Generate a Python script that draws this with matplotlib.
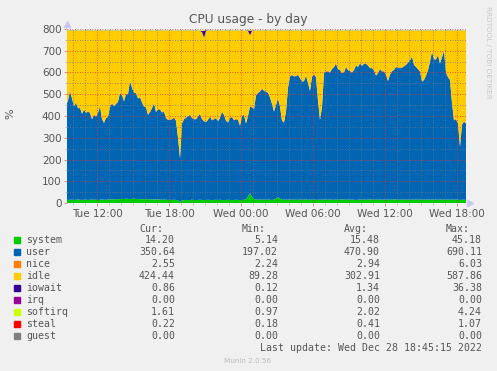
import matplotlib
matplotlib.use('Agg')
import matplotlib.pyplot as plt
import matplotlib.dates as mdates
from matplotlib.ticker import MultipleLocator
from matplotlib.patches import Rectangle
from matplotlib.lines import Line2D
import pandas as pd

W, H = 497, 371

start_time = '2022-12-27 09:25'
step = '10min'
x_start = '2022-12-27 09:30'
x_end = '2022-12-28 18:45'

system = [
    15, 14, 15, 15, 14, 15, 16, 15, 14, 15, 15, 14, 15, 16, 15, 15, 14, 15, 16, 15,
    15, 16, 17, 16, 17, 18, 17, 18, 19, 18, 20, 19, 18, 19, 20, 18, 19, 18, 17, 18,
    17, 18, 17, 16, 17, 16, 17, 16, 15, 16, 15, 14, 15, 14, 15, 14, 12, 6, 12, 13,
    14, 13, 14, 15, 14, 13, 14, 15, 14, 13, 14, 15, 14, 13, 14, 15, 14, 15, 14, 13,
    14, 15, 14, 13, 14, 15, 14, 13, 14, 15, 16, 30, 45, 28, 18, 16, 15, 16, 15, 16,
    15, 16, 15, 14, 16, 20, 28, 20, 15, 16, 15, 16, 16, 15, 16, 15, 15, 16, 15, 16,
    16, 15, 16, 15, 16, 15, 15, 16, 15, 16, 16, 15, 16, 15, 15, 16, 15, 16, 17, 16,
    15, 16, 15, 16, 15, 14, 15, 16, 15, 16, 15, 16, 17, 16, 15, 16, 15, 16, 15, 16,
    15, 16, 15, 16, 17, 16, 15, 16, 15, 16, 15, 16, 15, 16, 15, 16, 15, 16, 15, 16,
    15, 16, 15, 16, 15, 16, 15, 16, 15, 16, 15, 16, 15, 16, 15, 16, 15, 14, 15, 15,
    14,
]

user = [
    435, 456, 500, 465, 431, 445, 419, 422, 396, 413,
    399, 406, 399, 369, 390, 382, 400, 430, 369, 353,
    375, 379, 423, 442, 428, 437, 448, 487, 478, 449,
    480, 481, 542, 511, 486, 487, 461, 467, 445, 425,
    423, 387, 401, 419, 441, 402, 413, 414, 401, 404,
    375, 368, 367, 371, 377, 364, 288, 199, 353, 372,
    378, 384, 391, 376, 371, 372, 383, 395, 371, 362,
    358, 367, 383, 367, 371, 375, 361, 377, 404, 392,
    364, 355, 377, 382, 366, 370, 368, 342, 386, 390,
    349, 370, 398, 412, 412, 479, 490, 496, 510, 499,
    497, 490, 470, 441, 404, 430, 452, 423, 363, 354,
    405, 514, 565, 573, 566, 568, 573, 558, 542, 544,
    569, 537, 499, 565, 576, 563, 455, 366, 425, 584,
    588, 590, 584, 600, 610, 624, 600, 595, 580, 584,
    610, 594, 591, 584, 596, 618, 610, 626, 615, 624,
    625, 616, 603, 604, 595, 569, 582, 599, 590, 589,
    575, 544, 575, 589, 595, 609, 607, 604, 607, 612,
    620, 629, 640, 657, 620, 609, 600, 588, 543, 549,
    570, 594, 635, 679, 645, 644, 665, 624, 655, 684,
    585, 562, 550, 444, 365, 369, 350, 245, 345, 359,
    351,
]

nice = [
    3.0, 2.9, 3.1, 2.8, 3.0, 3.2, 2.9, 3.0, 2.7, 3.1, 3.0, 2.9, 3.3, 3.0, 2.8, 3.1, 2.9, 3.0, 2.6, 2.9,
    3.0, 2.9, 3.1, 2.8, 3.0, 3.2, 2.9, 3.0, 2.7, 3.1, 3.0, 2.9, 3.3, 3.0, 2.8, 3.1, 2.9, 3.0, 2.6, 2.9,
    3.0, 2.9, 3.1, 2.8, 3.0, 3.2, 2.9, 3.0, 2.7, 3.1, 3.0, 2.9, 3.3, 3.0, 2.8, 3.1, 2.9, 3.0, 2.6, 2.9,
    3.0, 2.9, 3.1, 2.8, 3.0, 3.2, 2.9, 3.0, 2.7, 3.1, 3.0, 2.9, 3.3, 3.0, 2.8, 3.1, 2.9, 3.0, 2.6, 2.9,
    3.0, 2.9, 3.1, 2.8, 3.0, 3.2, 2.9, 3.0, 2.7, 3.1, 3.0, 2.9, 3.3, 3.0, 2.8, 3.1, 2.9, 3.0, 2.6, 2.9,
    3.0, 2.9, 3.1, 2.8, 3.0, 3.2, 2.9, 3.0, 2.7, 3.1, 3.0, 2.9, 3.3, 3.0, 2.8, 3.1, 2.9, 3.0, 2.6, 2.9,
    3.0, 2.9, 3.1, 2.8, 3.0, 3.2, 2.9, 3.0, 2.7, 3.1, 3.0, 2.9, 3.3, 3.0, 2.8, 3.1, 2.9, 3.0, 2.6, 2.9,
    3.0, 2.9, 3.1, 2.8, 3.0, 3.2, 2.9, 3.0, 2.7, 3.1, 3.0, 2.9, 3.3, 3.0, 2.8, 3.1, 2.9, 3.0, 2.6, 2.9,
    3.0, 2.9, 3.1, 2.8, 3.0, 3.2, 2.9, 3.0, 2.7, 3.1, 3.0, 2.9, 3.3, 3.0, 2.8, 3.1, 2.9, 3.0, 2.6, 2.9,
    3.0, 2.9, 3.1, 2.8, 3.0, 3.2, 2.9, 3.0, 2.7, 3.1, 3.0, 2.9, 3.3, 3.0, 2.8, 3.1, 2.9, 3.0, 2.6, 2.9,
    2.6,
]

idle = [
    338, 318, 273, 308, 343, 328, 353, 351, 378, 360,
    374, 368, 374, 403, 383, 391, 374, 343, 403, 420,
    398, 393, 348, 330, 343, 333, 323, 283, 291, 321,
    288, 288, 228, 258, 282, 283, 308, 303, 326, 345,
    348, 383, 370, 353, 330, 370, 358, 358, 372, 368,
    398, 406, 406, 403, 396, 410, 488, 583, 423, 403,
    396, 391, 383, 397, 403, 403, 391, 378, 398, 383,
    416, 406, 391, 408, 403, 398, 413, 396, 370, 383,
    410, 418, 397, 393, 408, 403, 406, 433, 388, 383,
    423, 388, 325, 348, 358, 293, 283, 276, 263, 273,
    276, 282, 303, 333, 368, 338, 308, 345, 410, 418,
    368, 258, 207, 200, 206, 205, 200, 214, 231, 228,
    203, 236, 273, 208, 196, 210, 318, 406, 348, 188,
    184, 183, 188, 173, 163, 148, 173, 177, 191, 188,
    163, 178, 182, 188, 177, 156, 163, 146, 158, 148,
    148, 156, 168, 168, 178, 203, 191, 173, 183, 183,
    198, 228, 198, 183, 176, 163, 166, 168, 166, 160,
    153, 143, 133, 115, 153, 163, 173, 184, 230, 223,
    203, 178, 138, 93, 128, 128, 108, 148, 118, 88,
    188, 210, 223, 328, 408, 403, 423, 529, 428, 414,
    423,
]

iowait = [
    1.2, 0.9, 1.0, 1.4, 0.8, 1.1, 0.9, 1.0, 1.3, 0.8, 1.0, 1.1, 0.9, 1.2, 1.0, 0.8, 1.1, 0.9, 1.0, 1.2,
    1.2, 0.9, 1.0, 1.4, 0.8, 1.1, 0.9, 1.0, 1.3, 0.8, 1.0, 1.1, 0.9, 1.2, 1.0, 0.8, 1.1, 0.9, 1.0, 1.2,
    1.2, 0.9, 1.0, 1.4, 0.8, 1.1, 0.9, 1.0, 1.3, 0.8, 1.0, 1.1, 0.9, 1.2, 1.0, 0.8, 1.1, 0.9, 1.0, 1.2,
    1.2, 0.9, 1.0, 1.4, 0.8, 1.1, 0.9, 1.0, 5.0, 30.0, 4.0, 1.1, 0.9, 1.2, 1.0, 0.8, 1.1, 0.9, 1.0, 1.2,
    1.2, 0.9, 1.0, 1.4, 0.8, 1.1, 0.9, 1.0, 1.3, 0.8, 1.0, 3.0, 20.0, 2.5, 1.0, 0.8, 1.1, 0.9, 1.0, 1.2,
    1.2, 0.9, 1.0, 1.4, 0.8, 1.1, 0.9, 1.0, 1.3, 0.8, 1.0, 1.1, 0.9, 1.2, 1.0, 0.8, 1.1, 0.9, 1.0, 1.2,
    1.2, 0.9, 1.0, 1.4, 0.8, 1.1, 0.9, 1.0, 1.3, 0.8, 1.0, 1.1, 0.9, 1.2, 1.0, 0.8, 1.1, 0.9, 1.0, 1.2,
    1.2, 0.9, 1.0, 1.4, 0.8, 1.1, 0.9, 1.0, 1.3, 0.8, 1.0, 1.1, 0.9, 1.2, 1.0, 0.8, 1.1, 0.9, 1.0, 1.2,
    1.2, 0.9, 1.0, 1.4, 0.8, 1.1, 0.9, 1.0, 1.3, 0.8, 1.0, 1.1, 0.9, 1.2, 1.0, 0.8, 1.1, 0.9, 1.0, 1.2,
    1.2, 0.9, 1.0, 1.4, 0.8, 1.1, 0.9, 1.0, 1.3, 0.8, 1.0, 1.1, 0.9, 1.2, 1.0, 0.8, 1.1, 0.9, 1.0, 1.2,
    0.9,
]

irq = [0.0] * len(user)

softirq = [
    2.0, 1.9, 2.1, 2.2, 1.8, 2.0, 2.3, 1.9, 2.0, 2.1, 1.8, 2.0, 2.2, 1.9, 2.1, 2.0, 1.7, 2.0, 2.1, 1.9,
    2.0, 1.9, 2.1, 2.2, 1.8, 2.0, 2.3, 1.9, 2.0, 2.1, 1.8, 2.0, 2.2, 1.9, 2.1, 2.0, 1.7, 2.0, 2.1, 1.9,
    2.0, 1.9, 2.1, 2.2, 1.8, 2.0, 2.3, 1.9, 2.0, 2.1, 1.8, 2.0, 2.2, 1.9, 2.1, 2.0, 1.7, 2.0, 2.1, 1.9,
    2.0, 1.9, 2.1, 2.2, 1.8, 2.0, 2.3, 1.9, 2.0, 2.1, 1.8, 2.0, 2.2, 1.9, 2.1, 2.0, 1.7, 2.0, 2.1, 1.9,
    2.0, 1.9, 2.1, 2.2, 1.8, 2.0, 2.3, 1.9, 2.0, 2.1, 1.8, 2.0, 2.2, 1.9, 2.1, 2.0, 1.7, 2.0, 2.1, 1.9,
    2.0, 1.9, 2.1, 2.2, 1.8, 2.0, 2.3, 1.9, 2.0, 2.1, 1.8, 2.0, 2.2, 1.9, 2.1, 2.0, 1.7, 2.0, 2.1, 1.9,
    2.0, 1.9, 2.1, 2.2, 1.8, 2.0, 2.3, 1.9, 2.0, 2.1, 1.8, 2.0, 2.2, 1.9, 2.1, 2.0, 1.7, 2.0, 2.1, 1.9,
    2.0, 1.9, 2.1, 2.2, 1.8, 2.0, 2.3, 1.9, 2.0, 2.1, 1.8, 2.0, 2.2, 1.9, 2.1, 2.0, 1.7, 2.0, 2.1, 1.9,
    2.0, 1.9, 2.1, 2.2, 1.8, 2.0, 2.3, 1.9, 2.0, 2.1, 1.8, 2.0, 2.2, 1.9, 2.1, 2.0, 1.7, 2.0, 2.1, 1.9,
    2.0, 1.9, 2.1, 2.2, 1.8, 2.0, 2.3, 1.9, 2.0, 2.1, 1.8, 2.0, 2.2, 1.9, 2.1, 2.0, 1.7, 2.0, 2.1, 1.9,
    1.6,
]

steal = [
    0.4, 0.5, 0.4, 0.3, 0.4, 0.5, 0.4, 0.4, 0.3, 0.5, 0.4, 0.4, 0.5, 0.3, 0.4, 0.4, 0.5, 0.4, 0.3, 0.4,
    0.4, 0.5, 0.4, 0.3, 0.4, 0.5, 0.4, 0.4, 0.3, 0.5, 0.4, 0.4, 0.5, 0.3, 0.4, 0.4, 0.5, 0.4, 0.3, 0.4,
    0.4, 0.5, 0.4, 0.3, 0.4, 0.5, 0.4, 0.4, 0.3, 0.5, 0.4, 0.4, 0.5, 0.3, 0.4, 0.4, 0.5, 0.4, 0.3, 0.4,
    0.4, 0.5, 0.4, 0.3, 0.4, 0.5, 0.4, 0.4, 0.3, 0.5, 0.4, 0.4, 0.5, 0.3, 0.4, 0.4, 0.5, 0.4, 0.3, 0.4,
    0.4, 0.5, 0.4, 0.3, 0.4, 0.5, 0.4, 0.4, 0.3, 0.5, 0.4, 0.4, 0.5, 0.3, 0.4, 0.4, 0.5, 0.4, 0.3, 0.4,
    0.4, 0.5, 0.4, 0.3, 0.4, 0.5, 0.4, 0.4, 0.3, 0.5, 0.4, 0.4, 0.5, 0.3, 0.4, 0.4, 0.5, 0.4, 0.3, 0.4,
    0.4, 0.5, 0.4, 0.3, 0.4, 0.5, 0.4, 0.4, 0.3, 0.5, 0.4, 0.4, 0.5, 0.3, 0.4, 0.4, 0.5, 0.4, 0.3, 0.4,
    0.4, 0.5, 0.4, 0.3, 0.4, 0.5, 0.4, 0.4, 0.3, 0.5, 0.4, 0.4, 0.5, 0.3, 0.4, 0.4, 0.5, 0.4, 0.3, 0.4,
    0.4, 0.5, 0.4, 0.3, 0.4, 0.5, 0.4, 0.4, 0.3, 0.5, 0.4, 0.4, 0.5, 0.3, 0.4, 0.4, 0.5, 0.4, 0.3, 0.4,
    0.4, 0.5, 0.4, 0.3, 0.4, 0.5, 0.4, 0.4, 0.3, 0.5, 0.4, 0.4, 0.5, 0.3, 0.4, 0.4, 0.5, 0.4, 0.3, 0.4,
    0.2,
]

guest = [0.0] * len(user)

series_names = ['system', 'user', 'nice', 'idle', 'iowait', 'irq', 'softirq', 'steal', 'guest']
series_colors = ['#00CC00', '#0066B3', '#FF8000', '#FFCC00', '#330099',
                 '#990099', '#CCFF00', '#FF0000', '#808080']
cur_vals = [14.20, 350.64, 2.55, 424.44, 0.86, 0.00, 1.61, 0.22, 0.00]
min_vals = [5.14, 197.02, 2.24, 89.28, 0.12, 0.00, 0.97, 0.18, 0.00]
avg_vals = [15.48, 470.90, 2.94, 302.91, 1.34, 0.00, 2.02, 0.41, 0.00]
max_vals = [45.18, 690.11, 6.03, 587.86, 36.38, 0.00, 4.24, 1.07, 0.00]

title = 'CPU usage - by day'
y_label = '%'
last_update = 'Last update: Wed Dec 28 18:45:15 2022'
footer = 'Munin 2.0.56'
side_text = 'RRDTOOL / TOBI OETIKER'

TXT = '#555555'
BG = '#F0F0F0'


def fx(x):
    return x / W


def fy(y):
    return 1 - y / H


fig = plt.figure(figsize=(W / 100, H / 100), dpi=100, facecolor=BG)
ax = fig.add_axes([fx(67), fy(203), 399 / W, 174 / H])
ax.set_facecolor('white')

times = pd.date_range(start_time, periods=len(user), freq=step)
ax.stackplot(times, system, user, nice, idle, iowait, irq, softirq, steal, guest,
             colors=series_colors, linewidth=0, zorder=1)
ax.set_xlim(pd.Timestamp(x_start), pd.Timestamp(x_end))
ax.set_ylim(0, 800)

ax.xaxis.set_major_locator(mdates.HourLocator(byhour=[0, 6, 12, 18]))
ax.xaxis.set_major_formatter(mdates.DateFormatter('%a %H:%M'))
ax.xaxis.set_minor_locator(mdates.HourLocator())
ax.yaxis.set_major_locator(MultipleLocator(100))
ax.yaxis.set_minor_locator(MultipleLocator(50))

ax.set_axisbelow(False)
ax.grid(which='major', color=(0.9, 0.2, 0.2, 0.55), linestyle=(0, (1, 2)), linewidth=0.6)
ax.grid(which='minor', color=(0.45, 0.45, 0.55, 0.45), linestyle=(0, (1, 2)), linewidth=0.6)

for s in ax.spines.values():
    s.set_visible(False)

ax.tick_params(axis='both', which='major', labelsize=7.5, labelcolor=TXT, length=2,
               width=0.6, pad=2, color=(0.9, 0.3, 0.3, 0.7))
ax.tick_params(axis='both', which='minor', length=1.5, width=0.5, color='#AAAAAA')

# axis arrows
fig.add_artist(Line2D([fx(67)], [fy(24)], marker='^', markersize=4, color='#C8C8F0',
                      transform=fig.transFigure))
fig.add_artist(Line2D([fx(470)], [fy(203)], marker='>', markersize=4, color='#C8C8F0',
                      transform=fig.transFigure))

fig.text(fx(248), fy(20), title, ha='center', va='center', fontsize=8.7, color=TXT)
fig.text(fx(10), fy(114), y_label, ha='center', va='center', rotation=90, fontsize=8, color=TXT)
fig.text(fx(488), fy(52), side_text, ha='center', va='center', rotation=270,
         fontsize=5.2, color='#C8C8C8')

mono = 'DejaVu Sans Mono'
fs = 7.1
col_right = [175, 278, 380, 482]
headers = ['Cur:', 'Min:', 'Avg:', 'Max:']
for h, xr in zip(headers, col_right):
    fig.text(fx(xr - 12), fy(229), h, ha='right', va='center', family=mono, fontsize=fs, color=TXT)

row0 = 240
for i, name in enumerate(series_names):
    y = row0 + 12 * i
    fig.patches.append(Rectangle((fx(14), fy(y + 3)), 6 / W, 6 / H, transform=fig.transFigure,
                                 color=series_colors[i], figure=fig))
    fig.text(fx(26), fy(y), name, ha='left', va='center', family=mono, fontsize=fs, color=TXT)
    for vals, xr in zip([cur_vals, min_vals, avg_vals, max_vals], col_right):
        fig.text(fx(xr), fy(y), f'{vals[i]:.2f}', ha='right', va='center',
                 family=mono, fontsize=fs, color=TXT)

fig.text(fx(482), fy(row0 + 12 * len(series_names)), last_update, ha='right', va='center',
         family=mono, fontsize=fs, color=TXT)
fig.text(fx(248), fy(361), footer, ha='center', va='center', fontsize=5.2, color='#BBBBBB')

fig.savefig('out.png', dpi=100, facecolor=BG)
